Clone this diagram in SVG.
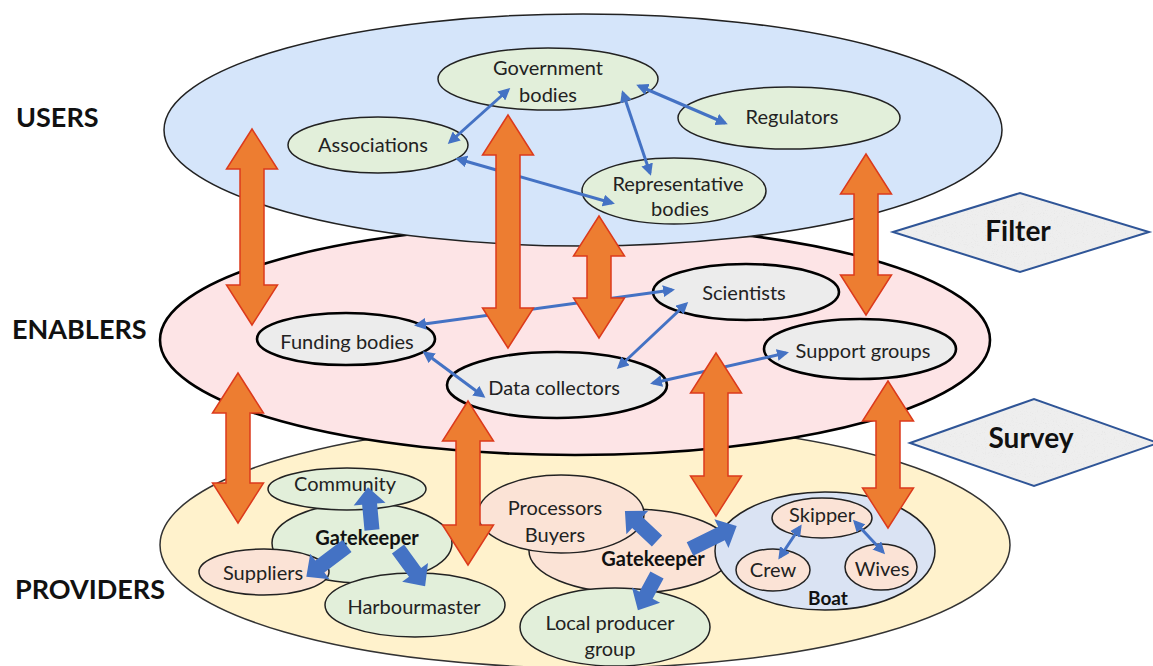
<svg xmlns="http://www.w3.org/2000/svg" width="1153" height="666" viewBox="0 0 1153 666">
  <defs>
    <style>
      .lbl { font-family: Lato, "Open Sans", "Liberation Sans", sans-serif; font-size: 20px; fill: #222; text-anchor: middle; }
      .bold { font-weight: bold; fill: #111; }
      .head { font-family: Lato, "Liberation Sans", sans-serif; font-size: 27px; font-weight: bold; fill: #111; }
      .tag { font-family: Lato, "Liberation Sans", sans-serif; font-size: 28px; font-weight: bold; fill: #111; text-anchor: middle; }
      .green { fill: #e2efda; stroke: #222; stroke-width: 1.5; }
      .peach { fill: #fbe3d6; stroke: #222; stroke-width: 1.5; }
      .grey { fill: #ececec; stroke: #000; stroke-width: 2.6; }
      .link { fill: none; stroke: #4472c4; stroke-width: 3; marker-start: url(#ah); marker-end: url(#ah); }
      .block { fill: #4472c4; }
      .flow { fill: #ed7d31; stroke: #dc3a1c; stroke-width: 1.5; stroke-linejoin: miter; }
      .diamond { stroke: #2f5597; stroke-width: 2; fill: none; }
    </style>
    <marker id="ah" viewBox="0 0 10 10" refX="7.5" refY="5" markerWidth="4" markerHeight="4" orient="auto-start-reverse">
      <path d="M0,0 L10,5 L0,10 Z" fill="#4472c4"/>
    </marker>
    <!-- speckled stone texture for the side tags -->
    <filter id="grain" x="0" y="0" width="100%" height="100%">
      <feTurbulence type="fractalNoise" baseFrequency="0.9" numOctaves="2" seed="4" result="n"/>
      <feColorMatrix in="n" type="matrix" values="0 0 0 0 0.78  0 0 0 0 0.78  0 0 0 0 0.78  0 0 0 3 -1.7" result="spk"/>
      <feComposite in="spk" in2="SourceGraphic" operator="in" result="dots"/>
      <feMerge><feMergeNode in="SourceGraphic"/><feMergeNode in="dots"/></feMerge>
    </filter>
  </defs>

  <rect width="1153" height="666" fill="#ffffff"/>

  <!-- three stacked layers -->
  <g id="layers">
    <ellipse id="providers-layer" cx="585" cy="545" rx="425" ry="123" fill="#fff2cc" stroke="#333" stroke-width="1.5"/>
    <ellipse id="enablers-layer" cx="575" cy="340" rx="415" ry="115" fill="#fde4e6" stroke="#000" stroke-width="2.6"/>
    <ellipse id="users-layer" cx="583" cy="130" rx="419" ry="116" fill="#d5e5fa" stroke="#222" stroke-width="1.5"/>
  </g>

  <g id="layer-titles">
    <text class="head" x="16" y="127">USERS</text>
    <text class="head" x="12" y="339">ENABLERS</text>
    <text class="head" x="15" y="599">PROVIDERS</text>
  </g>

  <!-- side tags -->
  <g id="filter">
    <polygon points="893,232 1020,193 1149,232 1020,272" fill="#eeeeee" filter="url(#grain)"/>
    <polygon class="diamond" points="893,232 1020,193 1149,232 1020,272"/>
    <text class="tag" x="1018" y="241">Filter</text>
  </g>
  <g id="survey">
    <polygon points="910,443 1034,399 1158,443 1034,486" fill="#eeeeee" filter="url(#grain)"/>
    <polygon class="diamond" points="910,443 1034,399 1158,443 1034,486"/>
    <text class="tag" x="1031" y="448">Survey</text>
  </g>

  <!-- users -->
  <g id="government-bodies">
    <ellipse class="green" cx="548" cy="79" rx="110" ry="31"/>
    <text class="lbl" x="548" y="75">Government</text>
    <text class="lbl" x="548" y="102">bodies</text>
  </g>
  <g id="associations">
    <ellipse class="green" cx="378" cy="145" rx="90" ry="28"/>
    <text class="lbl" x="373" y="152">Associations</text>
  </g>
  <g id="regulators">
    <ellipse class="green" cx="789" cy="118" rx="111" ry="31"/>
    <text class="lbl" x="792" y="124">Regulators</text>
  </g>
  <g id="representative-bodies">
    <ellipse class="green" cx="674" cy="191" rx="92" ry="33"/>
    <text class="lbl" x="678" y="191">Representative</text>
    <text class="lbl" x="680" y="216">bodies</text>
  </g>

  <!-- enablers -->
  <g id="scientists">
    <ellipse class="grey" cx="746" cy="292" rx="93" ry="28"/>
    <text class="lbl" x="744" y="300">Scientists</text>
  </g>
  <g id="funding-bodies">
    <ellipse class="grey" cx="346" cy="339" rx="89" ry="26"/>
    <text class="lbl" x="347" y="349">Funding bodies</text>
  </g>
  <g id="data-collectors">
    <ellipse class="grey" cx="557" cy="385" rx="110" ry="33"/>
    <text class="lbl" x="554" y="395">Data collectors</text>
  </g>
  <g id="support-groups">
    <ellipse class="grey" cx="860" cy="349" rx="96" ry="30"/>
    <text class="lbl" x="863" y="358">Support groups</text>
  </g>

  <!-- providers: harbour side -->
  <g id="gatekeeper-harbour">
    <ellipse class="green" cx="362" cy="543" rx="90" ry="40"/>
    <text class="lbl bold" x="367" y="545">Gatekeeper</text>
  </g>
  <g id="community">
    <ellipse class="green" cx="347" cy="489" rx="79" ry="21"/>
    <text class="lbl" x="345" y="491">Community</text>
  </g>
  <g id="suppliers">
    <ellipse class="peach" cx="264" cy="572" rx="65" ry="23"/>
    <text class="lbl" x="263" y="580">Suppliers</text>
  </g>
  <g id="harbourmaster">
    <ellipse class="green" cx="415" cy="605" rx="90" ry="32"/>
    <text class="lbl" x="414" y="614">Harbourmaster</text>
  </g>

  <!-- providers: market side -->
  <g id="gatekeeper-market">
    <ellipse class="peach" cx="631" cy="551" rx="102" ry="42"/>
    <text class="lbl bold" x="653" y="566">Gatekeeper</text>
  </g>
  <g id="processors-buyers">
    <ellipse class="peach" cx="561" cy="514" rx="83" ry="39"/>
    <text class="lbl" x="555" y="515">Processors</text>
    <text class="lbl" x="555" y="542">Buyers</text>
  </g>
  <g id="local-producer-group">
    <ellipse class="green" cx="615" cy="627" rx="95" ry="39"/>
    <text class="lbl" x="610" y="630">Local producer</text>
    <text class="lbl" x="610" y="656">group</text>
  </g>
  <g id="boat">
    <ellipse cx="825" cy="551" rx="110" ry="59" fill="#dae3f3" stroke="#222" stroke-width="1.5"/>
    <text class="lbl bold" x="828" y="605" style="font-size:19px">Boat</text>
  </g>
  <g id="skipper">
    <ellipse class="peach" cx="822" cy="518" rx="50" ry="20"/>
    <text class="lbl" x="822" y="522">Skipper</text>
  </g>
  <g id="crew">
    <ellipse class="peach" cx="773" cy="570" rx="37" ry="21"/>
    <text class="lbl" x="773" y="577">Crew</text>
  </g>
  <g id="wives">
    <ellipse class="peach" cx="881" cy="567" rx="36" ry="23"/>
    <text class="lbl" x="882" y="576">Wives</text>
  </g>

  <g id="connectors">
    <!-- two-way links inside each layer -->
    <line class="link" x1="450" y1="142" x2="508" y2="90"/>
    <line class="link" x1="639" y1="86" x2="725" y2="123"/>
    <line class="link" x1="623" y1="93" x2="650" y2="173"/>
    <line class="link" x1="458" y1="159" x2="612" y2="203"/>
    <line class="link" x1="417" y1="325" x2="672" y2="290"/>
    <line class="link" x1="619" y1="367" x2="686" y2="304"/>
    <line class="link" x1="425" y1="353" x2="483" y2="396"/>
    <line class="link" x1="653" y1="383" x2="786" y2="353"/>
    <line class="link" x1="800" y1="527" x2="780" y2="557"/>
    <line class="link" x1="855" y1="522" x2="883" y2="552"/>

    <!-- gatekeeper outflows -->
    <path class="block" transform="translate(372,530) rotate(-95.3)" d="M0,-7.5 H26 V-16 L43,0 L26,16 V7.5 H0 Z"/>
    <path class="block" transform="translate(347,546) rotate(142.9)" d="M0,-7.5 H34 V-16 L51,0 L34,16 V7.5 H0 Z"/>
    <path class="block" transform="translate(398,549) rotate(53.9)" d="M0,-7.5 H29 V-16 L46,0 L29,16 V7.5 H0 Z"/>
    <path class="block" transform="translate(657,541) rotate(-136.8)" d="M0,-7.5 H27 V-16 L44,0 L27,16 V7.5 H0 Z"/>
    <path class="block" transform="translate(690,549) rotate(-26.1)" d="M0,-7.5 H35 V-16 L52,0 L35,16 V7.5 H0 Z"/>
    <path class="block" transform="translate(657,575) rotate(118.5)" d="M0,-7.5 H23 V-16 L40,0 L23,16 V7.5 H0 Z"/>

    <!-- exchanges between layers -->
    <path class="flow" d="M252,129 L277.5,169 L264,169 L264,285 L277.5,285 L252,325 L226.5,285 L240,285 L240,169 L226.5,169 Z"/>
    <path class="flow" d="M508,115 L533.5,155 L520,155 L520,308 L533.5,308 L508,348 L482.5,308 L496,308 L496,155 L482.5,155 Z"/>
    <path class="flow" d="M599,216 L624.5,256 L611,256 L611,298 L624.5,298 L599,338 L573.5,298 L587,298 L587,256 L573.5,256 Z"/>
    <path class="flow" d="M866,154 L891.5,194 L878,194 L878,275 L891.5,275 L866,315 L840.5,275 L854,275 L854,194 L840.5,194 Z"/>
    <path class="flow" d="M238,373 L263.5,413 L250,413 L250,483 L263.5,483 L238,523 L212.5,483 L226,483 L226,413 L212.5,413 Z"/>
    <path class="flow" d="M468,401 L493.5,441 L480,441 L480,525 L493.5,525 L468,565 L442.5,525 L456,525 L456,441 L442.5,441 Z"/>
    <path class="flow" d="M716,353 L741.5,393 L728,393 L728,476 L741.5,476 L716,516 L690.5,476 L704,476 L704,393 L690.5,393 Z"/>
    <path class="flow" d="M888,381 L913.5,421 L900,421 L900,488 L913.5,488 L888,528 L862.5,488 L876,488 L876,421 L862.5,421 Z"/>
  </g>
</svg>
